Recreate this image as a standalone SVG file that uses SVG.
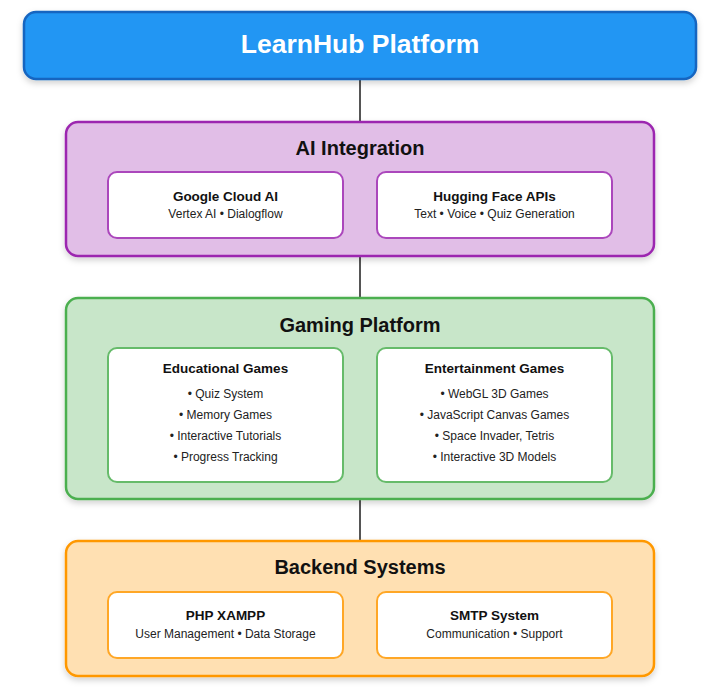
<svg xmlns="http://www.w3.org/2000/svg" width="723" height="690" viewBox="0 0 723 690">
<defs>
<filter id="sh" x="-5%" y="-10%" width="110%" height="130%">
<feDropShadow dx="0" dy="3" stdDeviation="3" flood-color="#000" flood-opacity="0.18"/>
</filter>
<style>
text{font-family:"Liberation Sans",Arial,sans-serif;text-anchor:middle;fill:#111;}
.h1{font-size:26.5px;font-weight:bold;fill:#fff;}
.h2{font-size:20px;font-weight:bold;}
.h3{font-size:13.5px;font-weight:bold;}
.t{font-size:12px;fill:#222;}
.outer{stroke-width:2.5;filter:url(#sh);}
.inner{fill:#fff;stroke-width:2;}
.conn{stroke:#555;stroke-width:2;fill:none;}
</style>
</defs>
<rect width="723" height="690" fill="#fff"/>
<g id="connectors">
<line class="conn" x1="360" y1="80" x2="360" y2="122"/>
<line class="conn" x1="360" y1="256" x2="360" y2="298"/>
<line class="conn" x1="360" y1="499" x2="360" y2="541"/>
</g>
<g id="learnhub">
<rect class="outer" x="24" y="12" width="672" height="67" rx="12" fill="#2196F3" stroke="#1565C0" stroke-width="2"/>
<text class="h1" x="360" y="52.5">LearnHub Platform</text>
</g>
<g id="ai">
<rect class="outer" x="66" y="122" width="588" height="134" rx="12" fill="#E1BEE7" stroke="#9C27B0"/>
<text class="h2" x="360" y="155">AI Integration</text>
<g id="google">
<rect class="inner" x="108" y="172" width="235" height="66" rx="9" stroke="#AB47BC"/>
<text class="h3" x="225.5" y="201">Google Cloud AI</text>
<text class="t" x="225.5" y="218">Vertex AI • Dialogflow</text>
</g>
<g id="hugging">
<rect class="inner" x="377" y="172" width="235" height="66" rx="9" stroke="#AB47BC"/>
<text class="h3" x="494.5" y="201">Hugging Face APIs</text>
<text class="t" x="494.5" y="218">Text • Voice • Quiz Generation</text>
</g>
</g>
<g id="gaming">
<rect class="outer" x="66" y="298" width="588" height="201" rx="12" fill="#C8E6C9" stroke="#4CAF50"/>
<text class="h2" x="360" y="332">Gaming Platform</text>
<g id="edu">
<rect class="inner" x="108" y="348" width="235" height="134" rx="9" stroke="#66BB6A"/>
<text class="h3" x="225.5" y="373">Educational Games</text>
<text class="t" x="225.5" y="398">• Quiz System</text>
<text class="t" x="225.5" y="419">• Memory Games</text>
<text class="t" x="225.5" y="440">• Interactive Tutorials</text>
<text class="t" x="225.5" y="461">• Progress Tracking</text>
</g>
<g id="ent">
<rect class="inner" x="377" y="348" width="235" height="134" rx="9" stroke="#66BB6A"/>
<text class="h3" x="494.5" y="373">Entertainment Games</text>
<text class="t" x="494.5" y="398">• WebGL 3D Games</text>
<text class="t" x="494.5" y="419">• JavaScript Canvas Games</text>
<text class="t" x="494.5" y="440">• Space Invader, Tetris</text>
<text class="t" x="494.5" y="461">• Interactive 3D Models</text>
</g>
</g>
<g id="backend">
<rect class="outer" x="66" y="541" width="588" height="135" rx="12" fill="#FFE0B2" stroke="#FF9800"/>
<text class="h2" x="360" y="574">Backend Systems</text>
<g id="php">
<rect class="inner" x="108" y="592" width="235" height="66" rx="9" stroke="#FFA726"/>
<text class="h3" x="225.5" y="620">PHP XAMPP</text>
<text class="t" x="225.5" y="638">User Management • Data Storage</text>
</g>
<g id="smtp">
<rect class="inner" x="377" y="592" width="235" height="66" rx="9" stroke="#FFA726"/>
<text class="h3" x="494.5" y="620">SMTP System</text>
<text class="t" x="494.5" y="638">Communication • Support</text>
</g>
</g>
</svg>
